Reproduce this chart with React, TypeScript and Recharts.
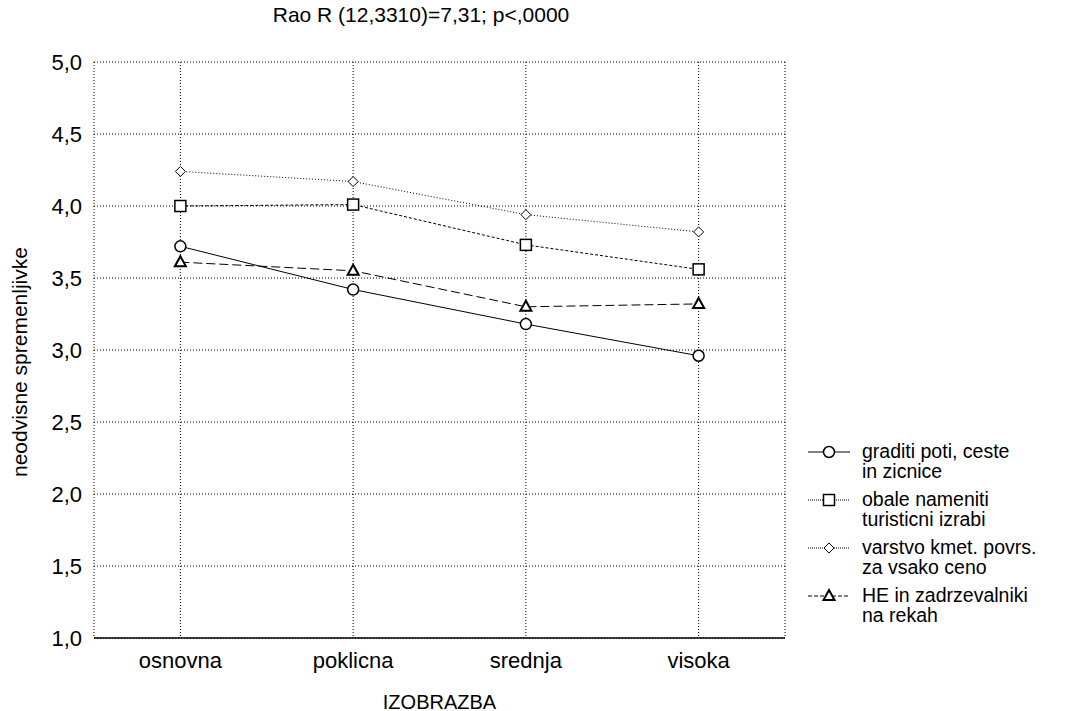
import React from 'react'
import {
  LineChart,
  Line,
  XAxis,
  YAxis,
  CartesianGrid,
} from 'recharts'

// categories and mean values per group
const categories = ['osnovna', 'poklicna', 'srednja', 'visoka']
const graditi = [3.72, 3.42, 3.18, 2.96]
const obale = [4.0, 4.01, 3.73, 3.56]
const varstvo = [4.24, 4.17, 3.94, 3.82]
const he = [3.61, 3.55, 3.3, 3.32]

const yTicks = [1, 1.5, 2, 2.5, 3, 3.5, 4, 4.5, 5]
const yMinorTicks = [
  1, 1.1, 1.2, 1.3, 1.4, 1.5, 1.6, 1.7, 1.8, 1.9, 2, 2.1, 2.2, 2.3, 2.4, 2.5, 2.6, 2.7, 2.8, 2.9,
  3, 3.1, 3.2, 3.3, 3.4, 3.5, 3.6, 3.7, 3.8, 3.9, 4, 4.1, 4.2, 4.3, 4.4, 4.5, 4.6, 4.7, 4.8, 4.9, 5,
]

const data = categories.map((c, i) => ({
  name: c,
  graditi: graditi[i],
  obale: obale[i],
  varstvo: varstvo[i],
  he: he[i],
}))

const FONT = '"Liberation Sans", Arial, sans-serif'

const fmt = (v: number) => v.toFixed(1).replace('.', ',')

// marker shapes
const Circle = (p: any) => (
  <circle cx={p.cx} cy={p.cy} r={5.5} fill="#fff" stroke="#000" strokeWidth={1.5} />
)
const Square = (p: any) => (
  <rect x={p.cx - 5.5} y={p.cy - 5.5} width={11} height={11} fill="#fff" stroke="#000" strokeWidth={1.5} />
)
const Diamond = (p: any) => (
  <path
    d={`M${p.cx},${p.cy - 5} L${p.cx + 5},${p.cy} L${p.cx},${p.cy + 5} L${p.cx - 5},${p.cy} Z`}
    fill="#fff"
    stroke="#000"
    strokeWidth={1}
  />
)
const Triangle = (p: any) => (
  <path
    d={`M${p.cx},${p.cy - 6} L${p.cx + 5.5},${p.cy + 4} L${p.cx - 5.5},${p.cy + 4} Z`}
    fill="#fff"
    stroke="#000"
    strokeWidth={2}
  />
)

const series = [
  { key: 'graditi', label: ['graditi poti, ceste', 'in zicnice'], dash: undefined, legDash: undefined, dot: Circle },
  { key: 'obale', label: ['obale nameniti', 'turisticni izrabi'], dash: '3 2', legDash: '1 1', dot: Square },
  { key: 'varstvo', label: ['varstvo kmet. povrs.', 'za vsako ceno'], dash: '1 2', legDash: '1 1', dot: Diamond },
  { key: 'he', label: ['HE in zadrzevalniki', 'na rekah'], dash: '9 4', legDash: '4 2', dot: Triangle },
]

function LegendBox() {
  return (
    <div style={{ position: 'absolute', left: 807, top: 442, fontFamily: FONT, fontSize: 19.5 }}>
      {series.map((s) => {
        const M = s.dot
        return (
          <div key={s.key} style={{ display: 'flex', marginBottom: 9, lineHeight: '19.5px' }}>
            <svg width={44} height={20} style={{ flex: 'none' }}>
              <line x1={1} y1={10} x2={43} y2={10} stroke="#000" strokeWidth={1} strokeDasharray={s.legDash} />
              <M cx={22} cy={10} />
            </svg>
            <div style={{ marginLeft: 11 }}>
              <div style={{ height: 19.5 }}>{s.label[0]}</div>
              <div style={{ height: 19.5 }}>{s.label[1]}</div>
            </div>
          </div>
        )
      })}
    </div>
  )
}

export default function App() {
  return (
    <div style={{ position: 'absolute', left: 0, top: 0, width: 1083, height: 711, background: '#fff', fontFamily: FONT, overflow: 'hidden' }}>
      <LineChart
        width={1083}
        height={711}
        data={data}
        margin={{ top: 62, right: 298, bottom: 0, left: 0 }}
      >
        <CartesianGrid stroke="#000" strokeDasharray="1 2" strokeWidth={1} />
        <XAxis
          dataKey="name"
          type="category"
          scale="band"
          height={73}
          tickLine={false}
          tickSize={0}
          tickMargin={14}
          axisLine={{ stroke: '#000', strokeWidth: 1.5 }}
          tick={{ fill: '#000', fontSize: 22, fontFamily: FONT }}
        />
        <XAxis xAxisId="top" dataKey="name" scale="band" orientation="top" height={0} tick={false} tickLine={false} axisLine={{ stroke: '#000', strokeWidth: 1.5 }} />
        <YAxis
          yAxisId="minorL"
          type="number"
          domain={[1, 5]}
          ticks={yMinorTicks}
          width={0}
          mirror
          tick={false}
          tickSize={4}
          tickLine={{ stroke: '#000' }}
          axisLine={{ stroke: '#000', strokeWidth: 1.5 }}
          allowDataOverflow
        />
        <YAxis
          type="number"
          domain={[1, 5]}
          ticks={yTicks}
          width={94}
          tickLine={false}
          tickSize={0}
          tickMargin={12}
          axisLine={false}
          tickFormatter={fmt}
          tick={{ fill: '#000', fontSize: 22, fontFamily: FONT }}
        />
        <YAxis
          yAxisId="minorR"
          orientation="right"
          type="number"
          domain={[1, 5]}
          ticks={yMinorTicks}
          width={0}
          mirror
          tick={false}
          tickSize={4}
          tickLine={{ stroke: '#000' }}
          axisLine={{ stroke: '#000', strokeWidth: 1.5 }}
          allowDataOverflow
        />
        {series.map((s) => (
          <Line
            key={s.key}
            dataKey={s.key}
            type="linear"
            stroke="#000"
            strokeWidth={1}
            strokeDasharray={s.dash}
            dot={s.dot}
            activeDot={false}
            isAnimationActive={false}
          />
        ))}
      </LineChart>
      <div style={{ position: 'absolute', left: 0, width: 842, top: 4, lineHeight: '22px', textAlign: 'center', fontSize: 21 }}>
        Rao R (12,3310)=7,31; p&lt;,0000
      </div>
      <div style={{ position: 'absolute', left: 94, width: 691, top: 694, lineHeight: '16px', textAlign: 'center', fontSize: 20 }}>
        IZOBRAZBA
      </div>
      <div
        style={{
          position: 'absolute',
          left: 20,
          top: 362,
          transform: 'translate(-50%, -50%) rotate(-90deg)',
          whiteSpace: 'nowrap',
          fontSize: 21,
          lineHeight: '22px',
        }}
      >
        neodvisne spremenljivke
      </div>
      <LegendBox />
    </div>
  )
}
